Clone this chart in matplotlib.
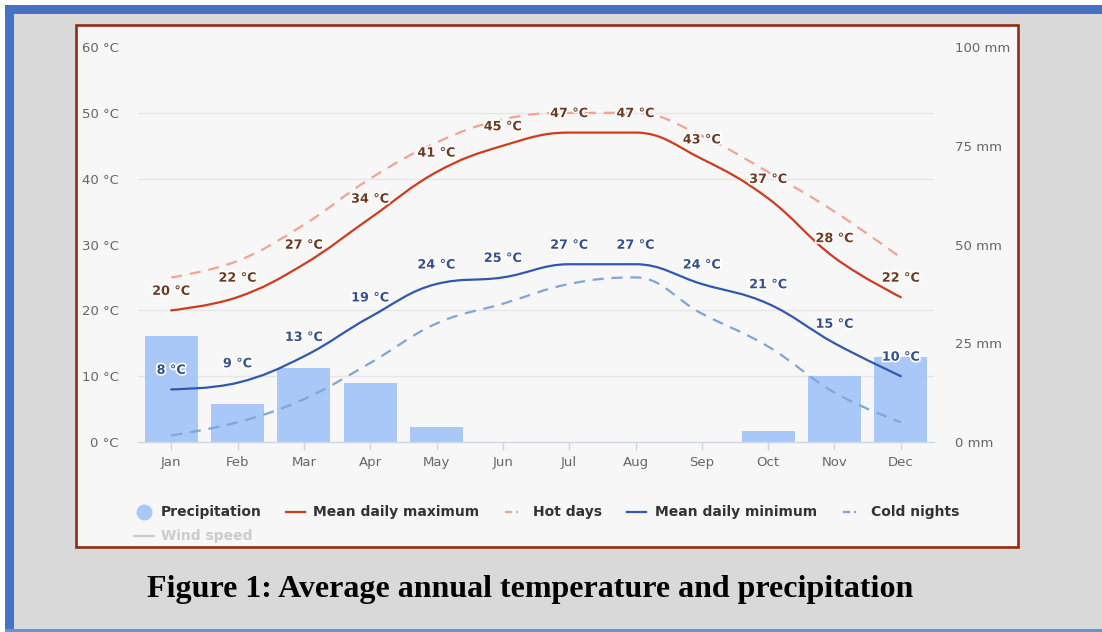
import numpy as np
import matplotlib
matplotlib.use('Agg')
import matplotlib.pyplot as plt
from matplotlib.path import Path
from matplotlib.patches import PathPatch, Rectangle
from matplotlib.lines import Line2D
import matplotlib.patheffects as pe

plt.rcParams['font.family'] = 'DejaVu Sans'

months = ['Jan', 'Feb', 'Mar', 'Apr', 'May', 'Jun', 'Jul', 'Aug', 'Sep', 'Oct', 'Nov', 'Dec']
precip = [26.8, 9.7, 18.7, 14.9, 3.9, 0, 0, 0, 0, 2.8, 16.6, 21.6]
mean_max = [20, 22, 27, 34, 41, 45, 47, 47, 43, 37, 28, 22]
hot_days = [25, 27.5, 33, 40, 45.5, 49, 50, 50, 46.5, 41, 35, 28]
mean_min = [8, 9, 13, 19, 24, 25, 27, 27, 24, 21, 15, 10]
cold_nights = [1, 3, 6.5, 12, 18, 21, 24, 25, 19.5, 14.5, 7.5, 3]
temp_ticks = [0, 10, 20, 30, 40, 50, 60]
mm_ticks = [0, 25, 50, 75, 100]

W, H = 1102, 632


def spline_path(xs, ys, smoothing=1.5):
    # highcharts style spline: bezier control points around each point
    n = len(xs)
    denom = smoothing + 1
    left = [(xs[i], ys[i]) for i in range(n)]
    right = [(xs[i], ys[i]) for i in range(n)]
    for i in range(1, n - 1):
        lx = (smoothing * xs[i] + xs[i - 1]) / denom
        ly = (smoothing * ys[i] + ys[i - 1]) / denom
        rx = (smoothing * xs[i] + xs[i + 1]) / denom
        ry = (smoothing * ys[i] + ys[i + 1]) / denom
        corr = (ry - ly) * (rx - xs[i]) / (rx - lx) + ys[i] - ry
        ly += corr
        ry += corr
        if ly > ys[i - 1] and ly > ys[i]:
            ly = max(ys[i - 1], ys[i]); ry = 2 * ys[i] - ly
        elif ly < ys[i - 1] and ly < ys[i]:
            ly = min(ys[i - 1], ys[i]); ry = 2 * ys[i] - ly
        if ry > ys[i + 1] and ry > ys[i]:
            ry = max(ys[i + 1], ys[i]); ly = 2 * ys[i] - ry
        elif ry < ys[i + 1] and ry < ys[i]:
            ry = min(ys[i + 1], ys[i]); ly = 2 * ys[i] - ry
        left[i] = (lx, ly)
        right[i] = (rx, ry)
    verts = [(xs[0], ys[0])]
    codes = [Path.MOVETO]
    for i in range(1, n):
        verts += [right[i - 1], left[i], (xs[i], ys[i])]
        codes += [Path.CURVE4] * 3
    return Path(verts, codes)


def px_rect(x0, y0, x1, y1, **kw):
    return Rectangle((x0 / W, 1 - y1 / H), (x1 - x0) / W, (y1 - y0) / H,
                     transform=fig.transFigure, zorder=-5, **kw)


fig = plt.figure(figsize=(W / 100, H / 100), dpi=100)
fig.patch.set_facecolor('#d9d9d9')

# page decoration
fig.add_artist(px_rect(0, 0, W, 5, facecolor='white', edgecolor='none'))
fig.add_artist(px_rect(0, 0, 5, H, facecolor='white', edgecolor='none'))
fig.add_artist(px_rect(5, 5, W, 14, facecolor='#4472c4', edgecolor='none'))
fig.add_artist(px_rect(5, 5, 14, H, facecolor='#4472c4', edgecolor='none'))
fig.add_artist(px_rect(5, 629, W, 632, facecolor='#6f8fd0', edgecolor='none'))
fig.add_artist(px_rect(76, 25, 1018, 547, facecolor='#f7f7f7', edgecolor='#962a0e', linewidth=1.9))

ax = fig.add_axes([138 / W, 1 - 442 / H, 796 / W, 395 / H])
ax2 = ax.twinx()
ax.set_zorder(ax2.get_zorder() + 1)
ax.patch.set_visible(False)
ax2.patch.set_visible(False)

x = np.arange(len(months))

# precipitation bars (right axis)
ax2.bar(x, precip, width=0.8, color='#a9c8f7', zorder=2)
ax2.set_ylim(0, 100)
ax2.set_yticks(mm_ticks)
ax2.set_yticklabels([f'{t} mm' for t in mm_ticks])
ax2.set_yticks(np.linspace(0, 100, 7), minor=True)
ax2.yaxis.grid(True, which='minor', color='#e6e6e6', linewidth=1)
ax2.set_axisbelow(True)
ax2.tick_params(axis='y', which='both', length=0, pad=15, labelsize=9.5, labelcolor='#666666')
for s in ax2.spines.values():
    s.set_visible(False)

# temperature lines (left axis)
ax.set_xlim(-0.5, 11.5)
ax.set_ylim(0, 60)
ax.add_patch(PathPatch(spline_path(x, hot_days), fill=False, edgecolor='#f2a494',
                       linewidth=1.6, linestyle=(0, (5, 3.5)), zorder=3))
ax.add_patch(PathPatch(spline_path(x, cold_nights), fill=False, edgecolor='#7fa6d8',
                       linewidth=1.6, linestyle=(0, (5, 3.5)), zorder=3))
ax.add_patch(PathPatch(spline_path(x, mean_max), fill=False, edgecolor='#d03b1c',
                       linewidth=1.6, capstyle='round', zorder=4))
ax.add_patch(PathPatch(spline_path(x, mean_min), fill=False, edgecolor='#3058b0',
                       linewidth=1.6, capstyle='round', zorder=4))

halo = [pe.withStroke(linewidth=2.5, foreground='white')]
for vals, col in [(mean_max, '#6e3b22'), (mean_min, '#34508f')]:
    for i, v in enumerate(vals):
        ax.annotate(f'{v} °C', (i, v), xytext=(0, 19), textcoords='offset pixels',
                    ha='center', va='center', fontsize=9.2, fontweight='bold',
                    color=col, path_effects=halo, zorder=6)

ax.set_yticks(temp_ticks)
ax.set_yticklabels([f'{t} °C' for t in temp_ticks])
ax.tick_params(axis='y', length=0, pad=14, labelsize=9.5, labelcolor='#666666')
ax.set_xticks(x)
ax.set_xticklabels(months)
ax.tick_params(axis='x', length=5.8, width=1, color='#ccd6eb', pad=4,
               labelsize=9.5, labelcolor='#666666')
for k in ['top', 'left', 'right']:
    ax.spines[k].set_visible(False)
ax.spines['bottom'].set_color('#ccd6eb')
ax.spines['bottom'].set_linewidth(1)

# legend, drawn by hand in figure pixels
def fx(px):
    return px / W

def fy(py):
    return 1 - py / H

ly = 512
leg_font = dict(fontsize=10, fontweight='bold', color='#333333', va='center', ha='left')
fig.add_artist(Line2D([fx(144)], [fy(ly)], marker='o', markersize=10.5,
                      color='#a9c8f7', linestyle='none'))
fig.text(fx(161), fy(ly), 'Precipitation', **leg_font)
fig.add_artist(Line2D([fx(286), fx(305)], [fy(ly), fy(ly)], color='#d03b1c', lw=1.6))
fig.text(fx(313), fy(ly), 'Mean daily maximum', **leg_font)
fig.add_artist(Line2D([fx(505), fx(518)], [fy(ly), fy(ly)], color='#f2a494', lw=1.6,
                      linestyle=(0, (3.2, 1.8))))
fig.text(fx(533), fy(ly), 'Hot days', **leg_font)
fig.add_artist(Line2D([fx(627), fx(646)], [fy(ly), fy(ly)], color='#3058b0', lw=1.6))
fig.text(fx(655), fy(ly), 'Mean daily minimum', **leg_font)
fig.add_artist(Line2D([fx(843), fx(856)], [fy(ly), fy(ly)], color='#7fa6d8', lw=1.6,
                      linestyle=(0, (3.2, 1.8))))
fig.text(fx(871), fy(ly), 'Cold nights', **leg_font)
fig.add_artist(Line2D([fx(134), fx(154)], [fy(536), fy(536)], color='#cccccc', lw=1.6))
fig.text(fx(161), fy(536), 'Wind speed', fontsize=10, fontweight='bold',
         color='#cccccc', va='center', ha='left')

fig.text(fx(530), fy(590), 'Figure 1: Average annual temperature and precipitation',
         fontsize=23, fontweight='bold', family='Liberation Serif',
         color='black', ha='center', va='center')

fig.savefig('out.png', dpi=100, facecolor=fig.get_facecolor())
